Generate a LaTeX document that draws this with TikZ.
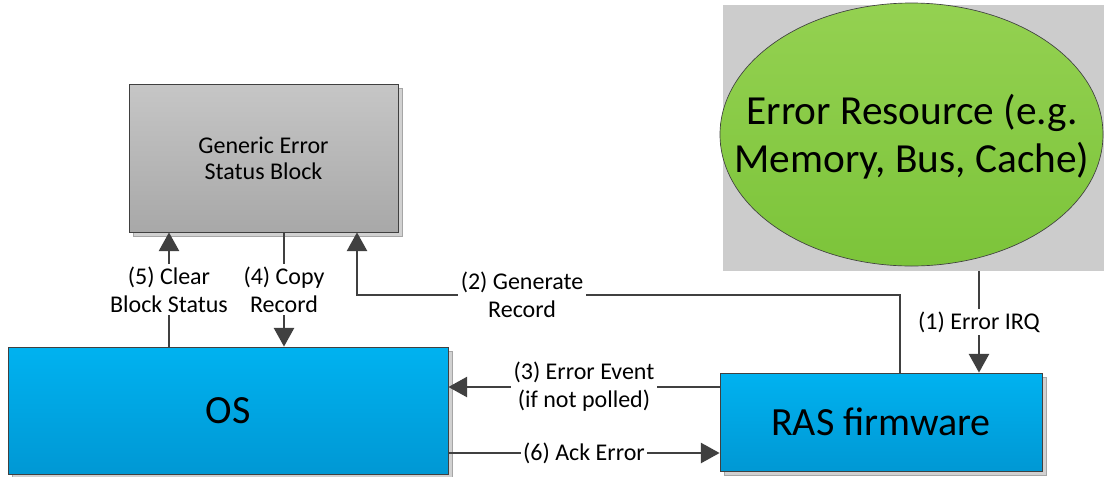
\documentclass[tikz,border=0pt]{standalone}
\usepackage{fontspec}
\setmainfont{Carlito}
\usetikzlibrary{arrows.meta,shapes.geometric,shadows}
\definecolor{garis}{HTML}{404040}
\definecolor{biruatas}{HTML}{00B2F0}
\definecolor{birubawah}{HTML}{0098D4}
\definecolor{abuatas}{HTML}{C6C6C6}
\definecolor{abubawah}{HTML}{A8A8A8}
\definecolor{hijauatas}{HTML}{94D151}
\definecolor{hijaubawah}{HTML}{7CC43A}
\definecolor{latar}{HTML}{CCCCCC}
\begin{document}
\begin{tikzpicture}[x=0.75pt,y=-0.75pt,
    blok/.style={draw=garis,line width=0.6pt,inner sep=0pt,align=center,shading=axis,
      general shadow={shadow xshift=3pt,shadow yshift=-3pt,fill=black!18,draw=black!35}},
    biru/.style={blok,top color=biruatas,bottom color=birubawah,font=\fontsize{30}{34}\selectfont},
    abu/.style={blok,top color=abuatas,bottom color=abubawah,font=\fontsize{18}{19.3}\selectfont},
    panah/.style={draw=garis,line width=1.8pt,-{Triangle[length=14pt,width=15pt]}},
    ket/.style={fill=white,inner sep=2pt,align=center,font=\fontsize{18}{21}\selectfont}]
  \useasboundingbox (0,0) rectangle (1104,476);
  % Sumber galat
  \node[fill=latar,inner sep=0pt,minimum width=285.75pt,minimum height=199.5pt] (resbg) at (913.5,138) {};
  \node[ellipse,draw=garis,line width=0.5pt,shading=axis,top color=hijauatas,bottom color=hijaubawah,
    inner sep=0pt,minimum width=287.25pt,minimum height=197.25pt] (res) at (911.5,134.5) {};
  \node[align=center,inner sep=0pt,font=\fontsize{31}{36}\selectfont] (restxt) at (912,137) {Error Resource (e.g.\\Memory, Bus, Cache)};
  % Blok utama
  \node[abu,minimum width=201.75pt,minimum height=111pt] (gesb) at (263.5,158) {Generic Error\\Status Block};
  \node[biru,minimum width=330pt,minimum height=95.25pt] (os) at (228,410.5) {OS};
  \node[biru,minimum width=241.5pt,minimum height=73.5pt] (ras) at (881,422) {RAS firmware};
  % Titik bantu untuk panah
  \coordinate (irq) at (979,0);
  \coordinate (g2a) at (900,295);
  \coordinate (g2b) at (357,295);
  \coordinate (y3) at (0,387);
  \coordinate (y6) at (0,453);
  \coordinate (x5) at (169,0);
  \coordinate (x4) at (284,0);
  % Alur penanganan galat
  \draw[panah] (resbg.south -| irq) -- node[ket] {(1) Error IRQ} (ras.north -| irq);
  \draw[panah] (ras.north -| g2a) -- (g2a) -- node[ket,pos=0.696] {(2) Generate\\Record} (g2b) -- (gesb.south -| g2b);
  \draw[panah] (ras.west |- y3) -- node[ket] {(3) Error Event\\(if not polled)} (os.east |- y3);
  \draw[panah] (gesb.south -| x4) -- node[ket] {(4) Copy\\Record} (os.north -| x4);
  \draw[panah] (os.north -| x5) -- node[ket] {(5) Clear\\Block Status} (gesb.south -| x5);
  \draw[panah] (os.east |- y6) -- node[ket] {(6) Ack Error} (ras.west |- y6);
\end{tikzpicture}
\end{document}
